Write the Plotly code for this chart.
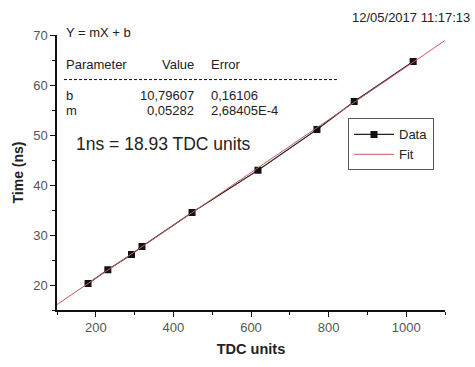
import plotly.graph_objects as go

tdc = [180, 231, 292, 319, 448, 618, 770, 866, 1018]
time_ns = [20.3, 23.05, 26.1, 27.7, 34.5, 42.95, 51.1, 56.7, 64.7]
fit_b = 10.79607
fit_m = 0.05282
fit_x = [100, 1100]
fit_y = [fit_b + fit_m * v for v in fit_x]

FONT = "Liberation Sans, Arial, sans-serif"

fig = go.Figure()
fig.add_trace(go.Scatter(x=tdc, y=time_ns, mode="lines+markers", name="Data",
                         line=dict(color="#222222", width=1.1),
                         marker=dict(symbol="square", size=7, color="#111111")))
fig.add_trace(go.Scatter(x=fit_x, y=fit_y, mode="lines", name="Fit",
                         line=dict(color="#c85a5a", width=1)))

axis_common = dict(showgrid=False, zeroline=False, showline=True, linecolor="#111111",
                   linewidth=1.5, ticks="outside", ticklen=5, tickwidth=1.2,
                   tickcolor="#111111", tickfont=dict(family=FONT, size=13, color="#555555"),
                   mirror=False)

fig.update_xaxes(range=[100, 1100], tickvals=[200, 400, 600, 800, 1000],
                 minor=dict(ticks="outside", ticklen=3, tickwidth=1, tickcolor="#111111",
                            tickvals=[100, 300, 500, 700, 900, 1100]),
                 title=dict(text="<b>TDC units</b>", font=dict(family=FONT, size=14.5, color="#222222"),
                            standoff=10),
                 **axis_common)
fig.update_yaxes(range=[15, 70], tickvals=[20, 30, 40, 50, 60, 70],
                 minor=dict(ticks="outside", ticklen=3, tickwidth=1, tickcolor="#111111",
                            tickvals=[15, 25, 35, 45, 55, 65]),
                 title=dict(text="<b>Time (ns)</b>", font=dict(family=FONT, size=14, color="#222222"),
                            standoff=6),
                 **axis_common)

pw, ph = 475 - 57 - 30, 367 - 35 - 42

fig.update_layout(
    width=475, height=367,
    margin=dict(l=57, r=30, t=35, b=42),
    paper_bgcolor="white", plot_bgcolor="white",
    showlegend=True,
    font=dict(family=FONT, color="#222222"),
    legend=dict(
        x=(348 - 57) / pw, y=1 - (123 - 35) / ph, xanchor="left", yanchor="top",
        bgcolor="white", bordercolor="#555555", borderwidth=1,
        font=dict(family=FONT, size=13, color="#222222"),
        itemwidth=40, tracegroupgap=0),
)


def px2x(p):
    return (p - 57) / pw


def py2y(p):
    return 1 - (p - 35) / ph


def txt(x, y, s, size=13, xanchor="left", color="#222222"):
    fig.add_annotation(x=px2x(x), y=py2y(y), xref="paper", yref="paper", text=s,
                       showarrow=False, xanchor=xanchor, yanchor="middle",
                       font=dict(family=FONT, size=size, color=color))


txt(64, 32, "Y = mX + b")
txt(64, 66, "Parameter")
txt(196, 66, "Value", xanchor="right")
txt(209, 66, "Error")
txt(64, 99, "b")
txt(196, 99, "10,79607", xanchor="right")
txt(209, 99, "0,16106")
txt(64, 115, "m")
txt(196, 115, "0,05282", xanchor="right")
txt(209, 115, "2,68405E-4")
txt(74, 150, "1ns = 18.93 TDC units", 17.5)
txt(472, 17, "12/05/2017 11:17:13", 13, xanchor="right")

fig.add_shape(type="line", xref="paper", yref="paper",
              x0=px2x(64), x1=px2x(337), y0=py2y(82), y1=py2y(82),
              line=dict(color="#111111", width=1, dash="3px,2px"))

fig.write_html("out.html")
